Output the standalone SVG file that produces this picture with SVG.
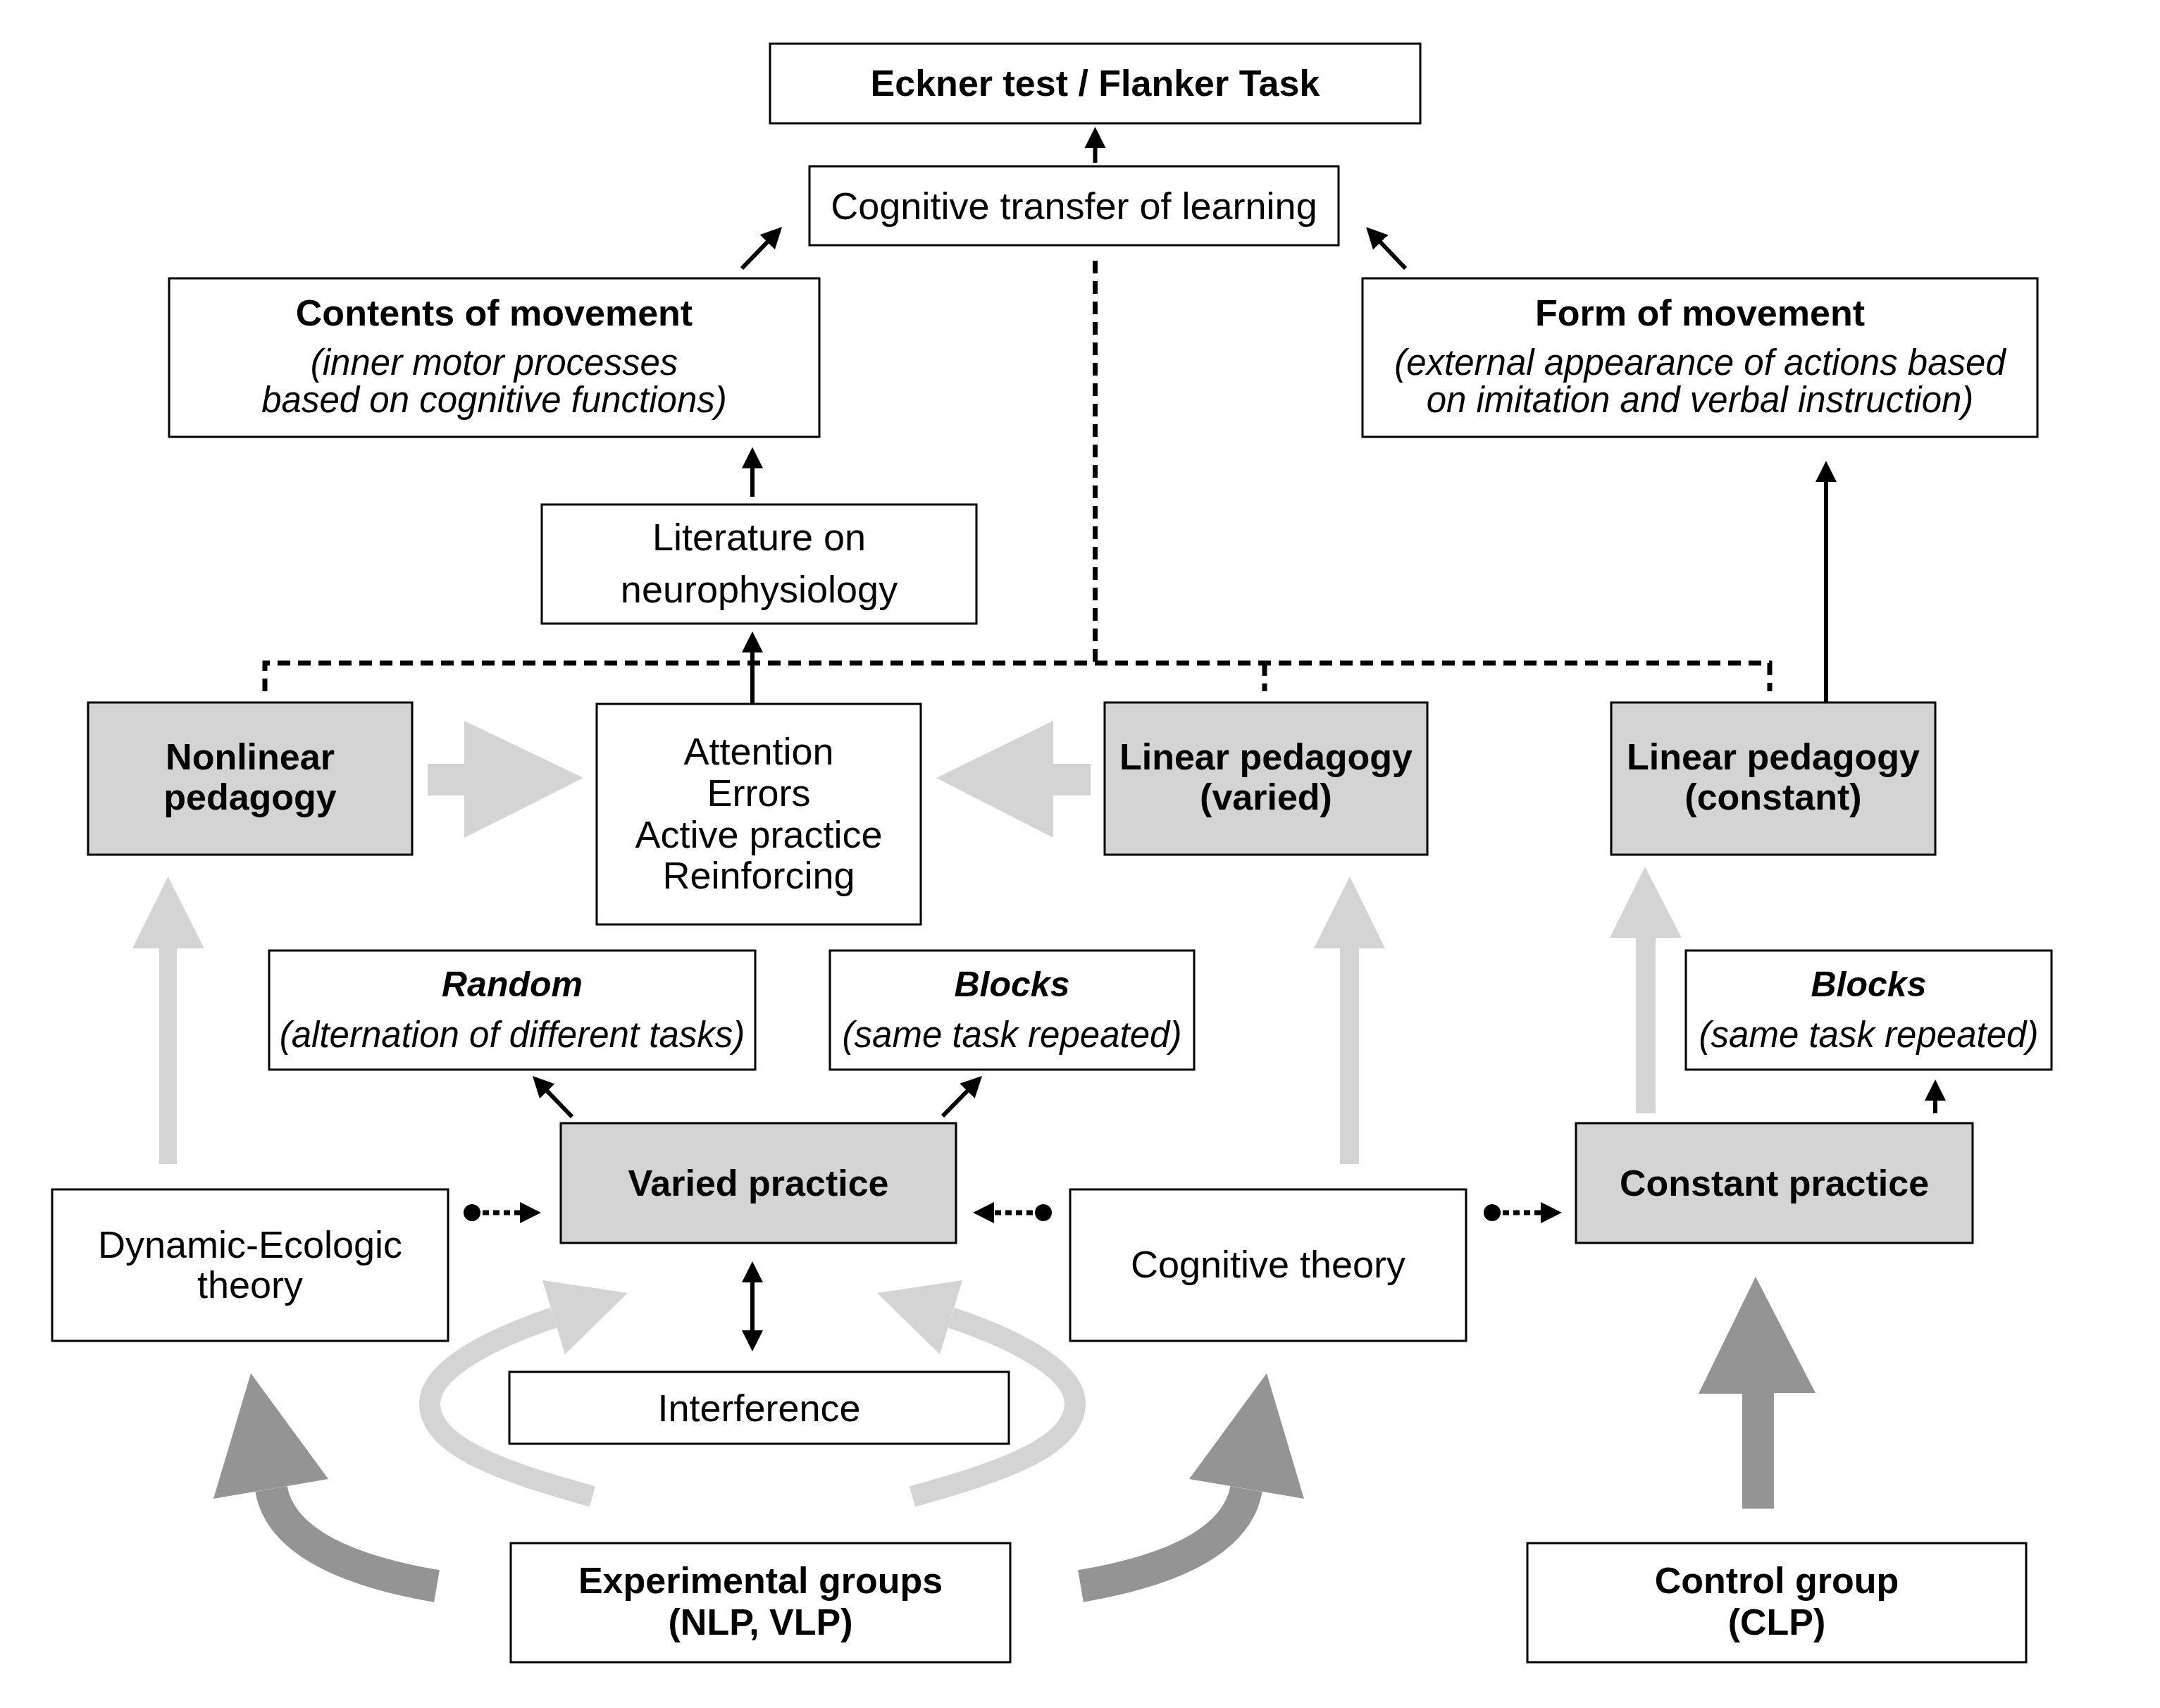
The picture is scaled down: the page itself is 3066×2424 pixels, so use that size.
<svg xmlns="http://www.w3.org/2000/svg" width="3066" height="2424" viewBox="0 0 3066 2424">
<style>
.box{fill:#fff;stroke:#000;stroke-width:3}
.gbox{fill:#d4d4d4;stroke:#000;stroke-width:3}
text{font-family:"Liberation Sans",Arial,sans-serif;text-anchor:middle;fill:#000}
.b{font-size:52px;font-weight:bold}
.r{font-size:54px}
.i{font-size:51px;font-style:italic}
.bi{font-size:50px;font-weight:bold;font-style:italic}
.arr{fill:none;stroke:#000;stroke-width:6}
.dash{fill:none;stroke:#000;stroke-width:7;stroke-dasharray:18 11}
.dot{fill:none;stroke:#000;stroke-width:7;stroke-dasharray:9 6}
.light{fill:#d4d4d4}
.lightband{fill:none;stroke:#d4d4d4;stroke-width:30}
.dark{fill:#949494}
.darkband{fill:none;stroke:#949494;stroke-width:46}
</style>
<defs>
<marker id="ah" markerUnits="userSpaceOnUse" markerWidth="32" markerHeight="32" viewBox="0 0 32 32" refX="4" refY="16" orient="auto-start-reverse"><path d="M0,1 L30,16 L0,31 z" fill="#000"/></marker>
<marker id="dt" markerUnits="userSpaceOnUse" markerWidth="26" markerHeight="26" viewBox="0 0 26 26" refX="13" refY="13"><circle cx="13" cy="13" r="12" fill="#000"/></marker>
</defs>
<rect width="3066" height="2424" fill="#fff"/>

<g id="connectors">
  <polygon class="light" points="607,1084 659,1084 659,1023 828,1104 659,1189 659,1129 607,1129"/>
  <polygon class="light" points="1548,1084 1495,1084 1495,1023 1329,1104 1495,1189 1495,1129 1548,1129"/>
  <polygon class="light" points="226,1652 251,1652 251,1346 290,1346 238.5,1244 188,1346 226,1346"/>
  <polygon class="light" points="1902,1652 1929,1652 1929,1346 1966,1346 1916,1244 1865,1346 1902,1346"/>
  <polygon class="light" points="2322,1580 2350,1580 2350,1331 2387,1331 2335,1230 2285,1331 2322,1331"/>
  <path class="lightband" d="M841,2124 C741,2095 610,2060 610,1992 C610,1940 711,1895 786,1870"/>
  <polygon class="light" points="770,1817 891,1835 802,1922"/>
  <path class="lightband" d="M1295,2124 C1395,2095 1526,2060 1526,1992 C1526,1940 1425,1895 1350,1870"/>
  <polygon class="light" points="1366,1817 1245,1835 1334,1922"/>
  <path class="darkband" d="M620,2251 Q402.5,2214 385,2113"/>
  <polygon class="dark" points="303,2127 356,1949 466,2099"/>
  <path class="darkband" d="M1534,2251 Q1751.5,2214 1769,2113"/>
  <polygon class="dark" points="1851,2127 1798,1949 1688,2099"/>
  <polygon class="dark" points="2473,2141 2518,2141 2518,1977 2577,1977 2492,1812 2411,1978 2473,1978"/>

  <path class="dash" d="M1554.5,370 V941"/>
  <path class="dash" d="M376,981 V941 H2512 V981"/>
  <path class="dash" d="M1795,941 V981"/>

  <path class="arr" marker-end="url(#ah)" d="M1554.5,231 V206"/>
  <path class="arr" marker-end="url(#ah)" d="M1053,381 L1092,340.7"/>
  <path class="arr" marker-end="url(#ah)" d="M1995,381 L1957,341"/>
  <path class="arr" marker-end="url(#ah)" d="M1068,705 V660.5"/>
  <path class="arr" marker-end="url(#ah)" d="M1068,999 V922"/>
  <path class="arr" marker-end="url(#ah)" d="M2592,997 V680"/>
  <path class="arr" marker-end="url(#ah)" d="M812,1585 L774,1545.7"/>
  <path class="arr" marker-end="url(#ah)" d="M1338,1584 L1375.8,1545.5"/>
  <path class="arr" marker-end="url(#ah)" d="M2747,1580 V1558"/>
  <path class="arr" marker-start="url(#ah)" marker-end="url(#ah)" d="M1068,1816 V1892"/>

  <path class="dot" marker-start="url(#dt)" marker-end="url(#ah)" d="M670,1721 H742"/>
  <path class="dot" marker-start="url(#dt)" marker-end="url(#ah)" d="M1481,1721 H1407"/>
  <path class="dot" marker-start="url(#dt)" marker-end="url(#ah)" d="M2118,1721 H2191"/>
</g>

<g id="eckner"><rect class="box" x="1093" y="62" width="923" height="113"/><text class="b" x="1554.5" y="136">Eckner test / Flanker Task</text></g>
<g id="cogtransfer"><rect class="box" x="1149" y="236" width="751" height="112"/><text class="r" x="1524.5" y="311">Cognitive transfer of learning</text></g>
<g id="contents"><rect class="box" x="240" y="395" width="923" height="225"/>
  <text class="b" x="701.5" y="462">Contents of movement</text>
  <text class="i" x="701.5" y="532">(inner motor processes</text>
  <text class="i" x="701.5" y="585">based on cognitive functions)</text></g>
<g id="form"><rect class="box" x="1934" y="395" width="958" height="225"/>
  <text class="b" x="2413" y="462">Form of movement</text>
  <text class="i" x="2413" y="532">(external appearance of actions based</text>
  <text class="i" x="2413" y="585">on imitation and verbal instruction)</text></g>
<g id="literature"><rect class="box" x="769" y="716" width="617" height="169"/>
  <text class="r" x="1077.5" y="781">Literature on</text>
  <text class="r" x="1077.5" y="855">neurophysiology</text></g>
<g id="nonlinear"><rect class="gbox" x="125" y="997" width="460" height="216"/>
  <text class="b" x="355" y="1092">Nonlinear</text>
  <text class="b" x="355" y="1149">pedagogy</text></g>
<g id="attention"><rect class="box" x="847" y="999" width="460" height="313"/>
  <text class="r" x="1077" y="1085">Attention</text>
  <text class="r" x="1077" y="1144">Errors</text>
  <text class="r" x="1077" y="1203">Active practice</text>
  <text class="r" x="1077" y="1261">Reinforcing</text></g>
<g id="linvaried"><rect class="gbox" x="1568" y="997" width="458" height="216"/>
  <text class="b" x="1797" y="1092">Linear pedagogy</text>
  <text class="b" x="1797" y="1149">(varied)</text></g>
<g id="linconst"><rect class="gbox" x="2287" y="997" width="460" height="216"/>
  <text class="b" x="2517" y="1092">Linear pedagogy</text>
  <text class="b" x="2517" y="1149">(constant)</text></g>
<g id="random"><rect class="box" x="382" y="1349" width="690" height="169"/>
  <text class="bi" x="727" y="1414">Random</text>
  <text class="i" x="727" y="1486">(alternation of different tasks)</text></g>
<g id="blocks"><rect class="box" x="1178" y="1349" width="517" height="169"/>
  <text class="bi" x="1436.5" y="1414">Blocks</text>
  <text class="i" x="1436.5" y="1486">(same task repeated)</text></g>
<g id="blocks2"><rect class="box" x="2393" y="1349" width="519" height="169"/>
  <text class="bi" x="2652.5" y="1414">Blocks</text>
  <text class="i" x="2652.5" y="1486">(same task repeated)</text></g>
<g id="varied"><rect class="gbox" x="796" y="1594" width="561" height="170"/>
  <text class="b" x="1076.5" y="1697">Varied practice</text></g>
<g id="constant"><rect class="gbox" x="2237" y="1594" width="563" height="170"/>
  <text class="b" x="2518.5" y="1697">Constant practice</text></g>
<g id="dynamic"><rect class="box" x="74" y="1688" width="562" height="215"/>
  <text class="r" x="355" y="1785">Dynamic-Ecologic</text>
  <text class="r" x="355" y="1842">theory</text></g>
<g id="cogtheory"><rect class="box" x="1519" y="1688" width="562" height="215"/>
  <text class="r" x="1800" y="1813">Cognitive theory</text></g>
<g id="interference"><rect class="box" x="723" y="1947" width="709" height="102"/>
  <text class="r" x="1077.5" y="2017">Interference</text></g>
<g id="experimental"><rect class="box" x="725" y="2190" width="709" height="169"/>
  <text class="b" x="1079.5" y="2261">Experimental groups</text>
  <text class="b" x="1079.5" y="2320">(NLP, VLP)</text></g>
<g id="control"><rect class="box" x="2168" y="2190" width="708" height="169"/>
  <text class="b" x="2522" y="2261">Control group</text>
  <text class="b" x="2522" y="2320">(CLP)</text></g>
</svg>
